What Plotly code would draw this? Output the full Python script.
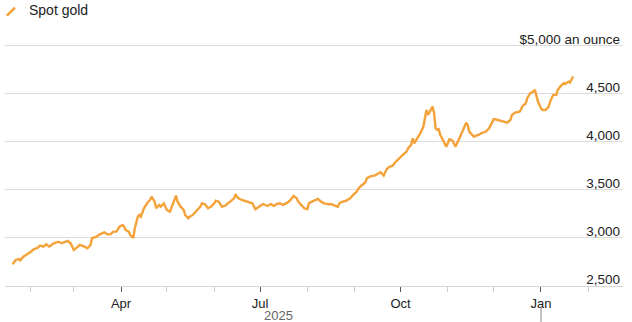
import plotly.graph_objects as go

dates = [
    "2025-01-20", "2025-01-22", "2025-01-24", "2025-01-25", "2025-01-27", "2025-01-29",
    "2025-02-01", "2025-02-03", "2025-02-05", "2025-02-07", "2025-02-09", "2025-02-11",
    "2025-02-13", "2025-02-16", "2025-02-19", "2025-02-21", "2025-02-23", "2025-02-25",
    "2025-02-27", "2025-03-01", "2025-03-03", "2025-03-05", "2025-03-08", "2025-03-10",
    "2025-03-12", "2025-03-13", "2025-03-16", "2025-03-18", "2025-03-21", "2025-03-23",
    "2025-03-25", "2025-03-27", "2025-03-29", "2025-03-31",
    "2025-04-02", "2025-04-03", "2025-04-04", "2025-04-06", "2025-04-07", "2025-04-09",
    "2025-04-10", "2025-04-12", "2025-04-13", "2025-04-14", "2025-04-16", "2025-04-18",
    "2025-04-20", "2025-04-21", "2025-04-23", "2025-04-24", "2025-04-26", "2025-04-27",
    "2025-04-29", "2025-05-01",
    "2025-05-03", "2025-05-05", "2025-05-07", "2025-05-08", "2025-05-10", "2025-05-12",
    "2025-05-13", "2025-05-15", "2025-05-16", "2025-05-18", "2025-05-20", "2025-05-23",
    "2025-05-24", "2025-05-26", "2025-05-28", "2025-05-30", "2025-06-01",
    "2025-06-02", "2025-06-04", "2025-06-06", "2025-06-08", "2025-06-10", "2025-06-14",
    "2025-06-15", "2025-06-17", "2025-06-19", "2025-06-23", "2025-06-26", "2025-06-28",
    "2025-06-30", "2025-07-02",
    "2025-07-03", "2025-07-06", "2025-07-08", "2025-07-10", "2025-07-12", "2025-07-14",
    "2025-07-16", "2025-07-19", "2025-07-21", "2025-07-23", "2025-07-25", "2025-07-26",
    "2025-07-28", "2025-07-30", "2025-08-01", "2025-08-02",
    "2025-08-04", "2025-08-06", "2025-08-08", "2025-08-10", "2025-08-12", "2025-08-15",
    "2025-08-17", "2025-08-19", "2025-08-21", "2025-08-22", "2025-08-24", "2025-08-26",
    "2025-08-29", "2025-08-31", "2025-09-02",
    "2025-09-04", "2025-09-06", "2025-09-08", "2025-09-09", "2025-09-12", "2025-09-14",
    "2025-09-16", "2025-09-18", "2025-09-20", "2025-09-22", "2025-09-24", "2025-09-26",
    "2025-09-27", "2025-09-29", "2025-10-01", "2025-10-03",
    "2025-10-05", "2025-10-06", "2025-10-08", "2025-10-09", "2025-10-10", "2025-10-13",
    "2025-10-14", "2025-10-16", "2025-10-17", "2025-10-18", "2025-10-19", "2025-10-21",
    "2025-10-22", "2025-10-23", "2025-10-24", "2025-10-25", "2025-10-26", "2025-10-27",
    "2025-10-29", "2025-10-31", "2025-11-01", "2025-11-02", "2025-11-03",
    "2025-11-04", "2025-11-06", "2025-11-07", "2025-11-08", "2025-11-10", "2025-11-11",
    "2025-11-13", "2025-11-14", "2025-11-15", "2025-11-17", "2025-11-18", "2025-11-21",
    "2025-11-23", "2025-11-26", "2025-11-28", "2025-11-30", "2025-12-01", "2025-12-02",
    "2025-12-05", "2025-12-07", "2025-12-10", "2025-12-12", "2025-12-13", "2025-12-15",
    "2025-12-18", "2025-12-19", "2025-12-20", "2025-12-22", "2025-12-23", "2025-12-25",
    "2025-12-27", "2025-12-28", "2025-12-29", "2025-12-30", "2026-01-01", "2026-01-02",
    "2026-01-04",
    "2026-01-06", "2026-01-07", "2026-01-09", "2026-01-11", "2026-01-12", "2026-01-14",
    "2026-01-16", "2026-01-17", "2026-01-19", "2026-01-20", "2026-01-22",
]

prices = [
    2726, 2771, 2781, 2768, 2805, 2823,
    2857, 2885, 2893, 2920, 2910, 2934,
    2910, 2945, 2961, 2945, 2961, 2969,
    2945, 2875, 2899, 2927, 2910, 2893,
    2927, 2997, 3014, 3038, 3059, 3038,
    3038, 3066, 3066, 3118,
    3135, 3118, 3083, 3066, 3031, 3000,
    3101, 3222, 3240, 3222, 3309, 3361,
    3396, 3430, 3378, 3309, 3344, 3326,
    3361, 3292,
    3274, 3361, 3441, 3378, 3326, 3292,
    3240, 3205, 3222, 3240, 3274, 3326,
    3361, 3351, 3309, 3326, 3361,
    3389, 3378, 3326, 3333, 3361, 3413,
    3448, 3413, 3396, 3378, 3361, 3299,
    3326, 3344,
    3354, 3333, 3354, 3333, 3354, 3361,
    3344, 3368, 3396, 3438, 3413, 3378,
    3344, 3309, 3299, 3361,
    3378, 3389, 3406, 3378, 3361, 3351,
    3351, 3337, 3326, 3361, 3378, 3385,
    3413, 3448, 3476,
    3524, 3552, 3580, 3622, 3646, 3649,
    3663, 3684, 3649, 3719, 3743, 3753,
    3778, 3813, 3847, 3872,
    3899, 3934, 3969, 4038, 3986, 4055,
    4091, 4160, 4260, 4333, 4281, 4333,
    4368, 4299, 4143, 4125, 4132, 4073,
    4004, 3951, 3986, 4028, 4021,
    4014, 3951, 3986, 4021, 4073, 4125,
    4201, 4177, 4108, 4073, 4055, 4073,
    4091, 4108, 4143, 4201, 4236, 4236,
    4222, 4212, 4201, 4229, 4281, 4305,
    4316, 4340, 4375, 4400, 4455, 4507,
    4524, 4542, 4490, 4420, 4351, 4333,
    4333,
    4368, 4420, 4490, 4490, 4542, 4583,
    4611, 4604, 4628, 4618, 4681,
]

y_ticks = [2500, 3000, 3500, 4000, 4500, 5000]
y_tick_text = ["2,500", "3,000", "3,500", "4,000", "4,500", "$5,000 an ounce"]
series_name = "Spot gold"
year_label = "2025"

FONT = "Liberation Sans, Arial, Helvetica, sans-serif"
ORANGE = "#F4A23A"

fig = go.Figure()
fig.add_trace(go.Scatter(
    x=dates, y=prices, mode="lines", name=series_name,
    line=dict(color=ORANGE, width=2.4), showlegend=False,
))

fig.update_layout(
    width=632, height=322,
    margin=dict(l=5, r=9, t=43, b=36),
    paper_bgcolor="white", plot_bgcolor="white",
    font=dict(family=FONT, size=13, color="#222"),
    xaxis=dict(
        range=["2025-01-15", "2026-02-23 17:00"],
        showgrid=False, zeroline=False,
        showline=True, linecolor="#d6d6d6", linewidth=1,
        ticks="outside", ticklen=5, tickcolor="#555", tickwidth=1,
        tick0="2025-01-01", dtick="M3", tickformat="%b",
        tickfont=dict(size=13, color="#222"),
        minor=dict(ticks="outside", dtick="M1", ticklen=5, tickcolor="#d0d0d0", tickwidth=1, showgrid=False),
        fixedrange=True,
    ),
    yaxis=dict(
        range=[2500, 5030],
        side="right",
        tickvals=y_ticks, ticktext=y_tick_text,
        ticklabelposition="inside top",
        ticklabeloverflow="allow",
        ticklabelshift=3,
        showgrid=True, gridcolor="#dcdcdc", gridwidth=1,
        zeroline=False, showline=False, ticks="",
        tickfont=dict(size=13.5, color="#222"),
        fixedrange=True,
    ),
)

# legend entry (slash marker + label)
fig.add_shape(type="line", xref="paper", yref="paper",
              x0=0.003, y0=1.113, x1=0.016, y1=1.145,
              line=dict(color=ORANGE, width=2.5))
fig.add_annotation(text=series_name, xref="paper", yref="paper",
                   x=0.035, y=1.136, xanchor="left", yanchor="middle",
                   showarrow=False, font=dict(size=14, color="#222"))

# year label and separator
fig.add_annotation(text=year_label, xref="x", yref="paper",
                   x="2025-07-13", y=-0.084, xanchor="center", yanchor="top",
                   showarrow=False, font=dict(size=13, color="#666"))
fig.add_shape(type="line", xref="x", yref="paper",
              x0="2026-01-01", x1="2026-01-01", y0=-0.084, y1=-0.148,
              line=dict(color="#888", width=1))

fig.write_html("out.html")
